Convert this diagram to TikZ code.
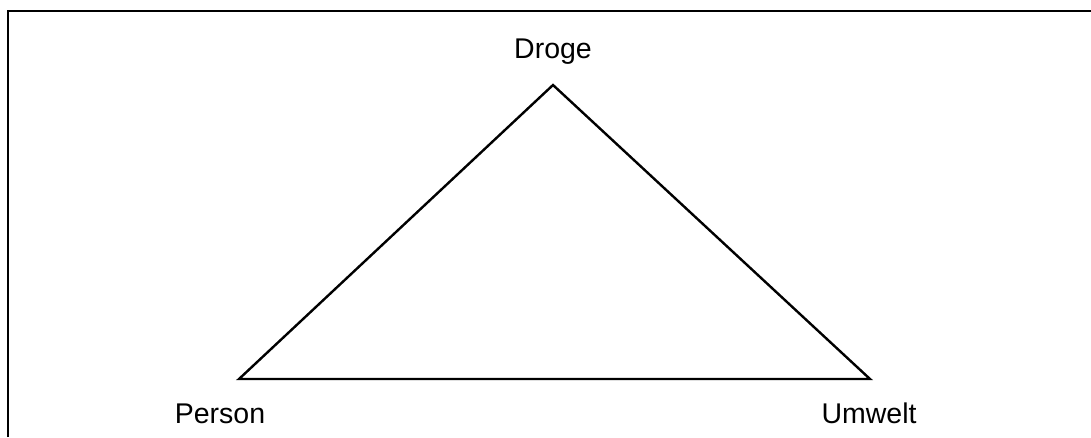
\documentclass[tikz,border=0pt]{standalone}
\usepackage{fontspec}
\setmainfont{Liberation Sans}
\begin{document}
\begin{tikzpicture}[x=1pt,y=-1pt,
  lbl/.style={anchor=base,inner sep=0pt,font=\fontsize{28.5}{34}\selectfont},
  edge/.style={line width=2.4pt,line join=miter},
  frame/.style={line width=2.4pt}]
\useasboundingbox (0,0) rectangle (1091,437);
\coordinate (fl) at (8,437);
\coordinate (fc) at (8,11);
\coordinate (fr) at (1091,11);
\draw[frame] (fl) -- (fc) -- (fr);
\coordinate (D) at (553,85);
\coordinate (P) at (239,379);
\coordinate (U) at (870,379);
\draw[edge] (D) -- (U) -- (P) -- cycle;
\node[lbl] (droge) at (553,58) {Droge};
\node[lbl] (person) at (220,423) {Person};
\node[lbl] (umwelt) at (869,423) {Umwelt};
\end{tikzpicture}
\end{document}
